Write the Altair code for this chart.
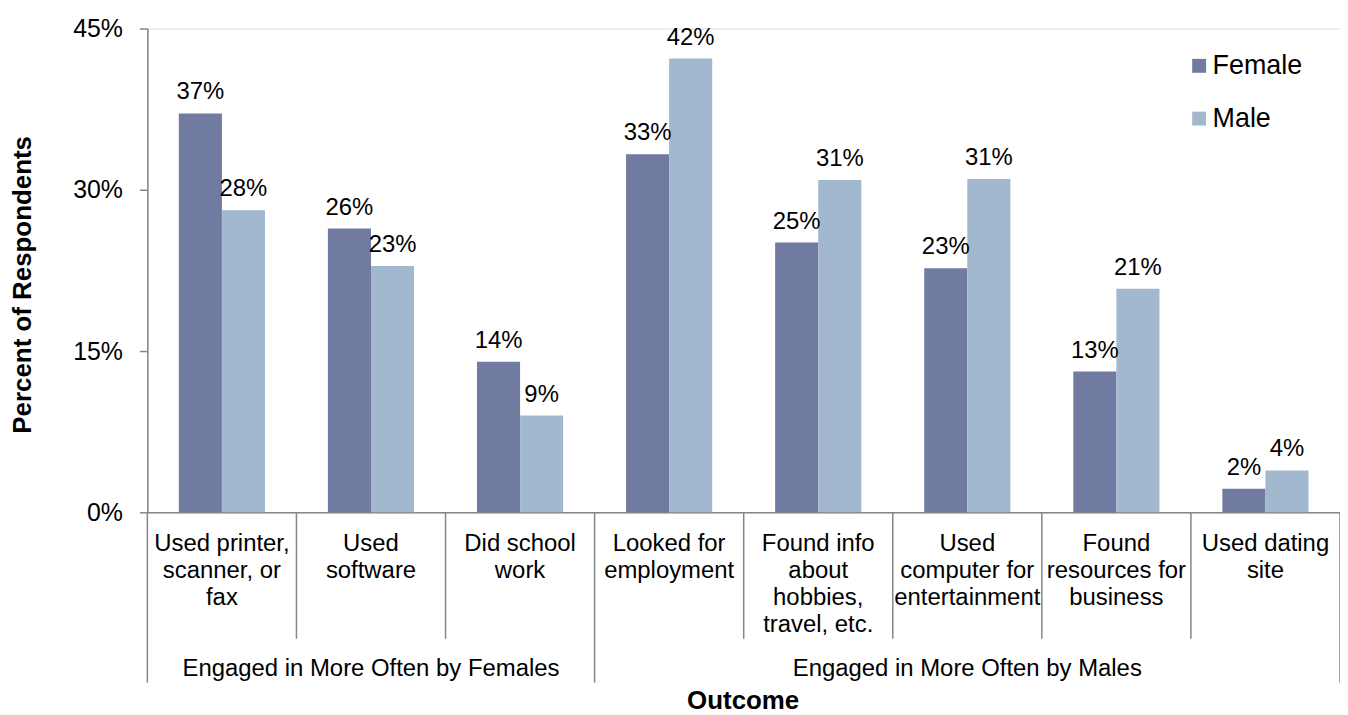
import altair as alt
import pandas as pd

categories = [
    "Used printer, scanner, or fax",
    "Used software",
    "Did school work",
    "Looked for employment",
    "Found info about hobbies, travel, etc.",
    "Used computer for entertainment",
    "Found resources for business",
    "Used dating site",
]
category_labels = [
    "Used printer,\nscanner, or\nfax",
    "Used\nsoftware",
    "Did school\nwork",
    "Looked for\nemployment",
    "Found info\nabout\nhobbies,\ntravel, etc.",
    "Used\ncomputer for\nentertainment",
    "Found\nresources for\nbusiness",
    "Used dating\nsite",
]
groups = [
    "Engaged in More Often by Females",
    "Engaged in More Often by Females",
    "Engaged in More Often by Females",
    "Engaged in More Often by Males",
    "Engaged in More Often by Males",
    "Engaged in More Often by Males",
    "Engaged in More Often by Males",
    "Engaged in More Often by Males",
]
female = [37.1, 26.4, 14.0, 33.3, 25.1, 22.7, 13.1, 2.2]
male = [28.1, 22.9, 9.0, 42.2, 30.9, 31.0, 20.8, 3.9]
series = ["Female", "Male"]
colors = ["#717AA0", "#A1B8CF"]
y_ticks = [0, 15, 30, 45]

rows = []
for c, f, m in zip(categories, female, male):
    rows.append({"category": c, "gender": "Female", "value": f, "label": f"{round(f)}%"})
    rows.append({"category": c, "gender": "Male", "value": m, "label": f"{round(m)}%"})
bars_df = pd.DataFrame(rows)
cat_df = pd.DataFrame({"category": categories, "text": category_labels, "group": groups,
                       "idx": list(range(len(categories)))})

FONT = "Liberation Sans"
GRAY = "#868686"
H = 486

x_enc = alt.X("category:N", sort=categories,
              scale=alt.Scale(domain=categories, paddingInner=0, paddingOuter=0),
              axis=alt.Axis(labels=False, ticks=False, domain=True, domainColor=GRAY,
                            domainWidth=1.5, title="Outcome", titleFont=FONT,
                            titleFontSize=26, titleFontWeight="bold", titleColor="#000000",
                            titleX=598, titleY=197, titleBaseline="alphabetic",
                            titleAlign="center"))
y_enc = alt.Y("value:Q", scale=alt.Scale(domain=[0, 45], nice=False),
              axis=alt.Axis(values=y_ticks, labelExpr="datum.value + '%'", grid=False,
                            domainColor=GRAY, domainWidth=1.5, tickColor=GRAY, tickWidth=1.5,
                            tickSize=8, labelPadding=17, labelFont=FONT, labelFontSize=25,
                            labelColor="#000000", title="Percent of Respondents",
                            titleFont=FONT, titleFontSize=26, titleFontWeight="bold",
                            titleColor="#000000", titleX=-117, titleY=257,
                            titleAngle=-90, titleBaseline="alphabetic", titleAlign="center"))
xoff = alt.XOffset("gender:N", sort=series,
                   scale=alt.Scale(domain=series, paddingInner=0, paddingOuter=0.73))
color_enc = alt.Color("gender:N", sort=series,
                      scale=alt.Scale(domain=series, range=colors),
                      legend=alt.Legend(title=None, orient="none", legendX=1043, legendY=24,
                                        symbolType="square", symbolSize=196,
                                        symbolStrokeWidth=0, labelFont=FONT,
                                        labelFontSize=27, labelColor="#000000",
                                        labelOffset=0, rowPadding=25))

base = alt.Chart(bars_df)
bars = base.mark_bar().encode(x=x_enc, xOffset=xoff, y=y_enc, color=color_enc)
labels = base.mark_text(font=FONT, fontSize=24, baseline="alphabetic", dy=-14,
                        color="#000000").encode(
    x=alt.X("category:N", sort=categories), xOffset=alt.XOffset("gender:N", sort=series),
    y="value:Q", text="label:N")

cat_base = alt.Chart(cat_df)
cat_text = cat_base.mark_text(font=FONT, fontSize=24, baseline="alphabetic",
                              lineBreak="\n", lineHeight=27, color="#000000").encode(
    x=alt.X("category:N", sort=categories), y=alt.value(H + 39), text="text:N")
group_text = cat_base.transform_filter(
    "datum.idx == 1 || datum.idx == 5").mark_text(
    font=FONT, fontSize=24, baseline="alphabetic", color="#000000").encode(
    x=alt.X("category:N", sort=categories), y=alt.value(H + 164), text="group:N")
inner_rules = cat_base.transform_filter(
    "datum.idx != 0 && datum.idx != 3").mark_rule(color=GRAY, strokeWidth=1.5).encode(
    x=alt.X("category:N", sort=categories, bandPosition=0),
    y=alt.value(H), y2=alt.value(H + 127))
group_rules = cat_base.transform_filter(
    "datum.idx == 0 || datum.idx == 3").mark_rule(color=GRAY, strokeWidth=1.5).encode(
    x=alt.X("category:N", sort=categories, bandPosition=0),
    y=alt.value(H), y2=alt.value(H + 171))
end_rule = cat_base.transform_filter(
    "datum.idx == 7").mark_rule(color=GRAY, strokeWidth=1.5).encode(
    x=alt.X("category:N", sort=categories, bandPosition=1),
    y=alt.value(H), y2=alt.value(H + 171))

chart = alt.layer(bars, labels, cat_text, group_text, inner_rules, group_rules,
                  end_rule).properties(
    width=1198, height=H,
    autosize=alt.AutoSizeParams(type="none"),
    padding={"left": 140, "top": 19, "right": 0, "bottom": 200},
).configure_view(stroke=None).configure(background="white")

chart.save("out.html", embed_options={"renderer": "svg", "actions": False})
